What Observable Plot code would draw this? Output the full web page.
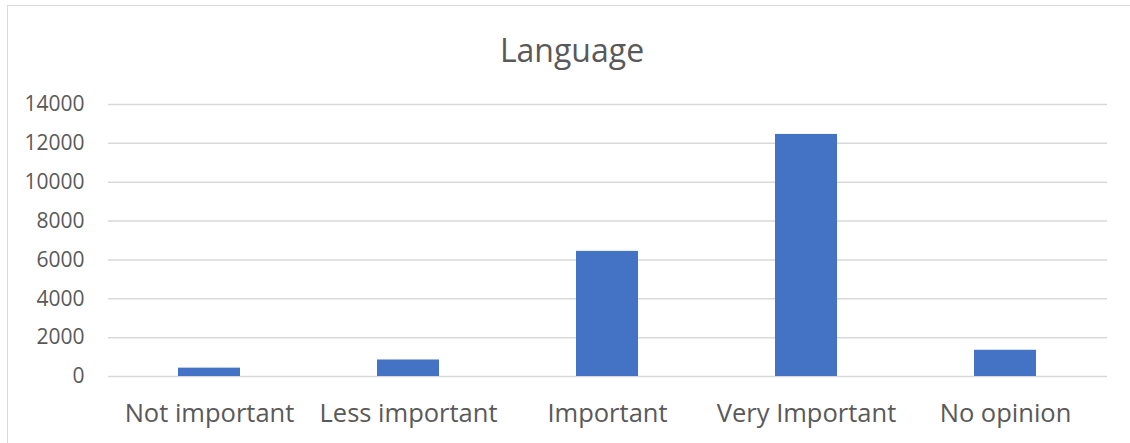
<!DOCTYPE html>
<html>
<head>
<meta charset="utf-8">
<script src="https://cdn.jsdelivr.net/npm/d3@7"></script>
<script src="https://cdn.jsdelivr.net/npm/@observablehq/plot@0.6"></script>
<style>
  html, body { margin: 0; padding: 0; background: #fff; }
  #wrap { position: relative; width: 1130px; height: 443px; overflow: hidden; font-family: "Open Sans", sans-serif; }
  #frame { position: absolute; left: 7px; top: 5px; width: 1140px; height: 460px; border: 1.5px solid #d9d9d9; box-sizing: border-box; }
  #title { position: absolute; left: 0; top: 0; width: 1144px; height: 85px; text-align: center; font-size: 32px; color: #595959; line-height: 100px; }
  #chart { position: absolute; left: 0; top: 85px; }
</style>
</head>
<body>
<div id="wrap">
  <div id="frame"></div>
  <div id="title">Language</div>
  <div id="chart"></div>
</div>
<script>
const categories = ["Not important", "Less important", "Important", "Very Important", "No opinion"];
const counts = [430, 850, 6440, 12460, 1350];
const yTicks = [0, 2000, 4000, 6000, 8000, 10000, 12000, 14000];

const data = categories.map((c, i) => ({category: c, count: counts[i]}));

const chart = Plot.plot({
  width: 1130,
  height: 358,
  marginTop: 19,
  marginBottom: 67,
  marginLeft: 108,
  marginRight: 23,
  style: {fontFamily: "Open Sans, sans-serif", color: "#595959", background: "transparent"},
  x: {domain: categories, paddingInner: 0.687, paddingOuter: 0.3435, label: null},
  y: {domain: [0, 14000], ticks: yTicks, label: null},
  marks: [
    Plot.gridY(yTicks, {stroke: "#d9d9d9", strokeOpacity: 1, strokeWidth: 1.5}),
    Plot.barY(data, {x: "category", y: "count", fill: "#4472C4"}),
    Plot.axisY(yTicks, {tickSize: 0, tickPadding: 24, fontSize: 21, fill: "#595959", tickFormat: d => String(d), label: null}),
    Plot.axisX({tickSize: 0, tickPadding: 27, fontSize: 25.5, fill: "#595959", label: null})
  ]
});
document.getElementById("chart").appendChild(chart);
</script>
</body>
</html>
